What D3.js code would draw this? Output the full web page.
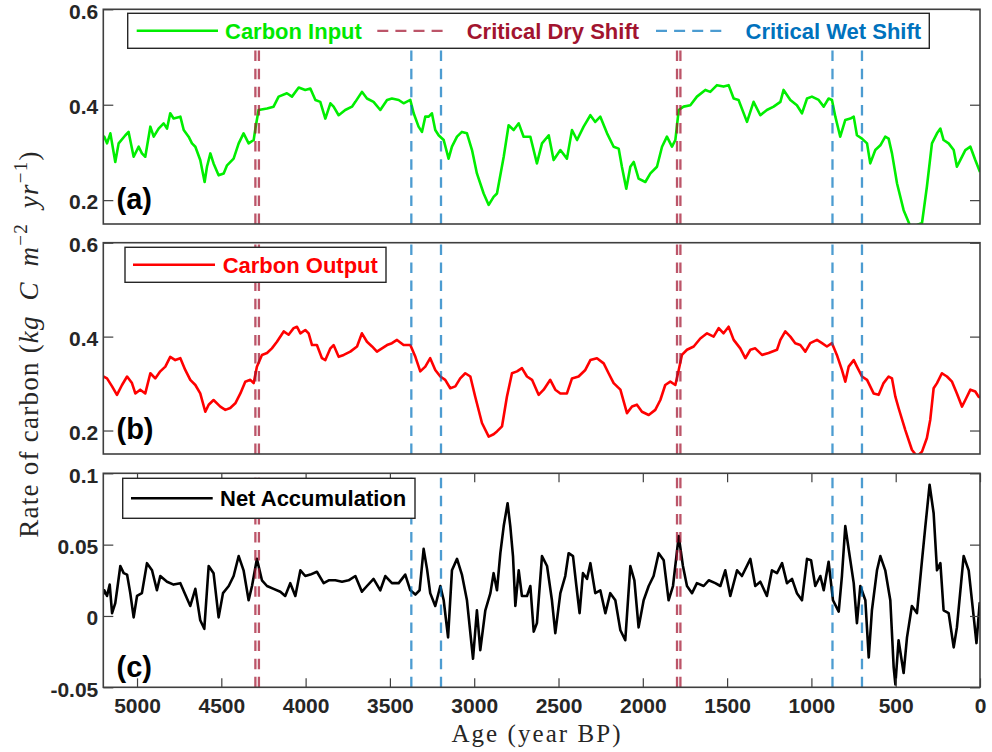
<!DOCTYPE html>
<html>
<head>
<meta charset="utf-8">
<script src="https://cdn.jsdelivr.net/npm/d3@7/dist/d3.min.js"></script>
<style>
  html, body { margin: 0; padding: 0; background: #ffffff; }
  svg { display: block; }
</style>
</head>
<body>
<svg id="chart" width="992" height="752"></svg>
<script>
// ---- Axis ticks ----
const ageTicks = [5000, 4500, 4000, 3500, 3000, 2500, 2000, 1500, 1000, 500, 0];
const rateTicks = [0.2, 0.4, 0.6];
const netTicks = [-0.05, 0, 0.05, 0.1];

// ---- Critical shift ages (year BP) ----
const dryShifts = [4298, 4277, 1797, 1777];
const wetShifts = [3373, 3197, 875, 700];

// ---- Carbon input (kg C m^-2 yr^-1) ----
const inputAge = [5200,5194,5178,5158,5129,5109,5069,5050,5020,4990,4971,4951,4921,4901,4872,4842,4822,4803,4783,4743,
  4723,4694,4674,4654,4625,4599,4585,4565,4546,4516,4486,4466,4427,4397,4368,4338,4308,4298,4279,4229,
  4190,4160,4111,4081,4041,4002,3972,3942,3913,3883,3853,3834,3804,3765,3725,3705,3666,3636,3597,3557,
  3517,3488,3448,3419,3379,3359,3330,3310,3290,3270,3251,3231,3211,3181,3152,3132,3102,3073,3043,3013,
  2984,2944,2914,2885,2865,2825,2796,2766,2736,2707,2667,2628,2598,2558,2529,2489,2450,2420,2390,2351,
  2311,2282,2252,2212,2173,2143,2124,2098,2074,2054,2025,1985,1955,1916,1886,1857,1827,1807,1787,1758,
  1718,1679,1629,1600,1560,1521,1491,1461,1432,1382,1343,1303,1264,1224,1184,1165,1125,1086,1056,1026,
  997,957,927,898,878,858,829,799,769,749,730,700,670,651,621,591,562,542,522,492,
  453,413,374,344,315,285,255,235,216,186,156,137,117,87,57,28,0];
const inputRate = [0.330,0.333,0.319,0.340,0.280,0.319,0.336,0.343,0.291,0.312,0.298,0.291,0.354,0.333,0.350,0.361,0.350,0.382,0.371,0.375,
  0.347,0.333,0.319,0.312,0.284,0.238,0.270,0.298,0.277,0.252,0.256,0.273,0.287,0.319,0.340,0.319,0.326,0.350,0.389,0.392,
  0.396,0.417,0.424,0.417,0.436,0.431,0.434,0.410,0.406,0.371,0.403,0.396,0.378,0.389,0.396,0.406,0.427,0.413,0.406,0.389,
  0.410,0.413,0.410,0.403,0.410,0.382,0.354,0.343,0.375,0.375,0.382,0.347,0.336,0.326,0.287,0.312,0.333,0.343,0.340,0.305,
  0.256,0.214,0.190,0.207,0.214,0.291,0.357,0.347,0.361,0.333,0.333,0.277,0.319,0.336,0.284,0.305,0.287,0.347,0.326,0.354,
  0.378,0.364,0.375,0.340,0.312,0.308,0.270,0.224,0.270,0.280,0.245,0.238,0.256,0.270,0.312,0.333,0.312,0.326,0.389,0.396,
  0.399,0.417,0.431,0.427,0.441,0.438,0.441,0.413,0.410,0.364,0.406,0.378,0.389,0.396,0.406,0.431,0.410,0.399,0.382,0.413,
  0.417,0.410,0.396,0.413,0.410,0.375,0.333,0.368,0.371,0.375,0.336,0.329,0.319,0.277,0.305,0.315,0.333,0.329,0.298,0.235,
  0.179,0.145,0.148,0.152,0.228,0.319,0.340,0.350,0.326,0.319,0.305,0.270,0.284,0.305,0.312,0.284,0.259];

// ---- Carbon output (kg C m^-2 yr^-1) ----
const outputAge = [5200,5178,5148,5119,5089,5059,5030,5010,4981,4951,4921,4892,4862,4832,4803,4773,4743,4714,4684,4654,
  4625,4595,4575,4546,4506,4476,4447,4417,4387,4358,4328,4308,4289,4259,4229,4200,4170,4130,4101,4071,
  4051,4031,4002,3982,3962,3933,3903,3883,3853,3834,3804,3774,3735,3695,3666,3636,3606,3577,3547,3517,
  3488,3458,3419,3379,3349,3320,3290,3261,3231,3201,3172,3142,3112,3083,3053,3023,2994,2954,2914,2885,
  2865,2835,2806,2776,2746,2717,2687,2657,2618,2588,2549,2519,2489,2450,2420,2381,2341,2311,2272,2232,
  2203,2173,2133,2094,2064,2035,2005,1965,1926,1896,1867,1837,1807,1787,1768,1738,1698,1659,1619,1580,
  1550,1521,1491,1461,1422,1392,1362,1333,1293,1254,1204,1184,1155,1125,1096,1066,1036,1007,967,937,
  908,878,849,819,799,779,749,730,700,670,631,601,572,542,522,502,483,443,404,374,
  344,315,295,275,255,226,196,166,137,107,87,57,28,8,0];
const outputRate = [0.315,0.311,0.294,0.276,0.297,0.315,0.301,0.279,0.287,0.279,0.322,0.311,0.326,0.336,0.357,0.350,0.354,0.329,0.308,0.297,
  0.279,0.240,0.255,0.265,0.251,0.244,0.248,0.258,0.279,0.304,0.308,0.301,0.336,0.361,0.365,0.375,0.389,0.411,0.404,0.418,
  0.421,0.407,0.414,0.407,0.382,0.382,0.354,0.350,0.375,0.382,0.357,0.361,0.368,0.379,0.407,0.389,0.379,0.368,0.375,0.382,
  0.386,0.393,0.382,0.382,0.357,0.326,0.336,0.354,0.329,0.315,0.308,0.290,0.294,0.311,0.322,0.315,0.272,0.216,0.187,0.192,
  0.198,0.209,0.272,0.322,0.326,0.333,0.315,0.308,0.276,0.287,0.308,0.287,0.279,0.279,0.311,0.315,0.329,0.350,0.354,0.343,
  0.322,0.301,0.287,0.237,0.251,0.255,0.240,0.233,0.244,0.265,0.297,0.304,0.297,0.329,0.361,0.372,0.379,0.396,0.407,0.400,
  0.418,0.407,0.421,0.393,0.375,0.354,0.372,0.375,0.361,0.365,0.372,0.393,0.411,0.400,0.386,0.382,0.368,0.386,0.393,0.386,
  0.379,0.386,0.361,0.329,0.304,0.336,0.350,0.336,0.315,0.308,0.279,0.276,0.301,0.315,0.311,0.272,0.248,0.201,0.159,0.145,
  0.155,0.184,0.223,0.290,0.301,0.322,0.315,0.304,0.279,0.251,0.265,0.287,0.283,0.272,0.270];

// ---- Net accumulation (kg C m^-2 yr^-1) ----
const netAge = [5200,5194,5178,5162,5148,5129,5115,5099,5079,5059,5040,5020,5000,4971,4941,4911,4882,4862,4822,4783,
  4743,4714,4684,4654,4625,4601,4575,4546,4516,4490,4456,4427,4397,4368,4338,4318,4289,4259,4229,4190,
  4150,4121,4091,4061,4031,4002,3972,3933,3893,3863,3824,3784,3745,3705,3666,3636,3597,3557,3527,3488,
  3448,3409,3379,3349,3324,3300,3280,3261,3231,3201,3181,3155,3132,3102,3073,3043,3007,2984,2964,2934,
  2904,2885,2865,2845,2825,2802,2786,2770,2756,2736,2717,2687,2667,2647,2628,2598,2568,2539,2519,2489,
  2460,2440,2414,2394,2375,2355,2331,2311,2282,2252,2222,2193,2163,2133,2104,2074,2050,2025,1995,1965,
  1936,1906,1876,1847,1821,1787,1762,1738,1708,1679,1639,1609,1570,1540,1511,1481,1441,1412,1362,1333,
  1303,1264,1234,1204,1174,1145,1115,1086,1056,1026,1002,977,947,927,898,872,838,819,799,773,
  749,730,710,680,660,641,611,591,562,532,512,502,483,453,433,404,374,344,324,299,
  275,255,235,216,186,156,137,97,67,37,21,2,0];
const netRate = [0.015,0.018,0.014,0.022,0.002,0.009,0.021,0.035,0.030,0.029,0.016,-0.001,0.014,0.016,0.037,0.032,0.018,0.028,0.024,0.022,
  0.023,0.015,0.007,0.019,-0.003,-0.009,0.035,0.030,-0.001,0.016,0.021,0.028,0.042,0.032,0.011,0.021,0.040,0.025,0.021,0.019,
  0.017,0.014,0.023,0.014,0.032,0.028,0.029,0.031,0.023,0.025,0.025,0.024,0.025,0.028,0.017,0.021,0.026,0.018,0.028,0.023,
  0.023,0.029,0.018,0.015,0.018,0.047,0.033,0.016,0.007,0.021,0.011,-0.015,0.032,0.040,0.029,0.011,-0.030,0.004,-0.024,0.004,
  0.016,0.030,0.018,0.044,0.063,0.079,0.063,0.042,0.007,0.032,0.014,0.014,0.021,-0.011,-0.005,0.042,0.035,0.011,-0.012,0.016,
  0.028,0.044,0.042,0.021,0.002,0.030,0.026,0.037,0.016,0.018,0.002,0.016,0.011,-0.010,-0.017,0.035,0.025,-0.008,0.011,0.021,
  0.028,0.044,0.039,0.011,0.021,0.056,0.035,0.021,0.016,0.023,0.021,0.025,0.023,0.021,0.032,0.014,0.032,0.028,0.040,0.021,
  0.024,0.014,0.032,0.030,0.037,0.023,0.026,0.016,0.011,0.040,0.039,0.021,0.028,0.018,0.038,0.011,0.003,0.028,0.063,0.042,
  0.023,-0.005,0.021,0.011,-0.029,0.004,0.032,0.042,0.032,0.011,-0.036,-0.048,-0.017,-0.040,-0.015,0.007,0.002,0.039,0.063,0.092,
  0.072,0.032,0.037,0.004,0.002,-0.022,-0.008,0.042,0.032,-0.001,-0.019,0.009,0.008];

// ---- Layout ----
const svg = d3.select('#chart');
const plotLeft = 103.3, plotRight = 980;
const tickFont = '"Liberation Sans", Arial, Helvetica, sans-serif';
const serifFont = '"Liberation Serif", "Times New Roman", serif';
const frameColor = '#3f3f3f';
const textColor = '#262626';

const x = d3.scaleLinear().domain([5200, 0]).range([plotLeft, plotRight]);

const panels = [
  { key: 'a', top: 9.3, bottom: 224, domain: [0.15, 0.6], ticks: rateTicks, fmt: d3.format('.1f'),
    ages: inputAge, vals: inputRate, color: '#00ee00', tag: '(a)', tagY: 208.5, showAge: false,
    legend: { x0: 127.7, x1: 929.3, y0: 13.3, y1: 48.3,
      items: [
        { kind: 'solid', color: '#00ee00', lx0: 136.7, lx1: 218, tx: 225, text: 'Carbon Input', tcolor: '#00e800' },
        { kind: 'dry', lx0: 377.3, lx1: 443, tx: 466.7, text: 'Critical Dry Shift', tcolor: '#a2142f' },
        { kind: 'wet', lx0: 656, lx1: 722, tx: 745.5, text: 'Critical Wet Shift', tcolor: '#0072bd' }
      ] } },
  { key: 'b', top: 242.7, bottom: 454, domain: [0.15, 0.6], ticks: rateTicks, fmt: d3.format('.1f'),
    ages: outputAge, vals: outputRate, color: '#ff0000', tag: '(b)', tagY: 439, showAge: false,
    legend: { x0: 125, x1: 386, y0: 247.3, y1: 282.3,
      items: [ { kind: 'solid', color: '#ff0000', lx0: 133, lx1: 215, tx: 222.7, text: 'Carbon Output', tcolor: '#ff0000' } ] } },
  { key: 'c', top: 473.3, bottom: 687.3, domain: [-0.05, 0.1], ticks: netTicks, fmt: d => (d === 0 ? '0' : String(d)),
    ages: netAge, vals: netRate, color: '#000000', tag: '(c)', tagY: 677, showAge: true,
    legend: { x0: 122.7, x1: 415, y0: 478.3, y1: 518.3,
      items: [ { kind: 'solid', color: '#000000', lx0: 131, lx1: 212.7, tx: 220, text: 'Net Accumulation', tcolor: '#000000' } ] } }
];

const dryStroke = 'rgba(162,20,47,0.72)';
const wetStroke = 'rgba(0,114,189,0.7)';
const dashPattern = '10.5,7.6';

panels.forEach(p => {
  const y = d3.scaleLinear().domain(p.domain).range([p.bottom, p.top]);
  const g = svg.append('g').attr('class', 'panel-' + p.key);

  // clip region for the data line
  const clipId = 'clip-' + p.key;
  svg.append('defs').append('clipPath').attr('id', clipId)
    .append('rect')
    .attr('x', plotLeft).attr('y', p.top)
    .attr('width', plotRight - plotLeft).attr('height', p.bottom - p.top);

  // series line
  const series = p.ages.map((a, i) => ({ age: a, v: p.vals[i] }));
  g.append('path')
    .datum(series)
    .attr('clip-path', `url(#${clipId})`)
    .attr('fill', 'none')
    .attr('stroke', p.color)
    .attr('stroke-width', 2.6)
    .attr('stroke-linejoin', 'round')
    .attr('d', d3.line().x(d => x(d.age)).y(d => y(d.v)));

  // critical shift markers, drawn upward from the bottom edge
  const shiftLines = [
    ...dryShifts.map(a => ({ age: a, stroke: dryStroke })),
    ...wetShifts.map(a => ({ age: a, stroke: wetStroke }))
  ];
  g.selectAll('line.shift').data(shiftLines).join('line')
    .attr('class', 'shift')
    .attr('x1', d => x(d.age)).attr('x2', d => x(d.age))
    .attr('y1', p.bottom).attr('y2', p.top)
    .attr('stroke', d => d.stroke)
    .attr('stroke-width', 2.3)
    .attr('stroke-dasharray', dashPattern);

  // y axes (ticks inside on both sides)
  const left = g.append('g').attr('transform', `translate(${plotLeft},0)`)
    .call(d3.axisLeft(y).tickValues(p.ticks).tickSize(-10).tickPadding(5).tickFormat(p.fmt));
  const right = g.append('g').attr('transform', `translate(${plotRight},0)`)
    .call(d3.axisRight(y).tickValues(p.ticks).tickSize(-10).tickFormat(''));
  [left, right].forEach(ax => {
    ax.select('.domain').remove();
    ax.selectAll('.tick line').attr('stroke', frameColor).attr('stroke-width', 1.2);
  });
  left.selectAll('.tick text')
    .attr('font-family', tickFont).attr('font-weight', 'bold').attr('font-size', 21)
    .attr('fill', textColor).attr('dy', '0.42em');

  // age axis ticks (bottom panel only)
  if (p.showAge) {
    const bottom = g.append('g').attr('transform', `translate(0,${p.bottom})`)
      .call(d3.axisBottom(x).tickValues(ageTicks).tickSize(-9).tickPadding(11).tickFormat(d3.format('d')));
    const topAx = g.append('g').attr('transform', `translate(0,${p.top})`)
      .call(d3.axisTop(x).tickValues(ageTicks).tickSize(-9).tickFormat(''));
    [bottom, topAx].forEach(ax => {
      ax.select('.domain').remove();
      ax.selectAll('.tick line').attr('stroke', frameColor).attr('stroke-width', 1.2);
    });
    bottom.selectAll('.tick text')
      .attr('font-family', tickFont).attr('font-weight', 'bold').attr('font-size', 21)
      .attr('fill', textColor);
  }

  // axes box
  g.append('rect')
    .attr('x', plotLeft).attr('y', p.top)
    .attr('width', plotRight - plotLeft).attr('height', p.bottom - p.top)
    .attr('fill', 'none').attr('stroke', frameColor).attr('stroke-width', 1.6);

  // legend
  const L = p.legend;
  const lg = g.append('g').attr('class', 'legend');
  lg.append('rect')
    .attr('x', L.x0).attr('y', L.y0).attr('width', L.x1 - L.x0).attr('height', L.y1 - L.y0)
    .attr('fill', '#ffffff').attr('stroke', '#262626').attr('stroke-width', 1.4);
  const ly = (L.y0 + L.y1) / 2;
  L.items.forEach(it => {
    const ln = lg.append('line')
      .attr('x1', it.lx0).attr('x2', it.lx1).attr('y1', ly).attr('y2', ly)
      .attr('stroke-width', it.kind === 'solid' ? 2.6 : 2.3);
    if (it.kind === 'solid') ln.attr('stroke', it.color);
    else ln.attr('stroke', it.kind === 'dry' ? dryStroke : wetStroke).attr('stroke-dasharray', '11,7.1');
    lg.append('text')
      .attr('x', it.tx).attr('y', ly).attr('dy', '0.36em')
      .attr('font-family', tickFont).attr('font-weight', 'bold').attr('font-size', 22)
      .attr('fill', it.tcolor).text(it.text);
  });

  // panel tag
  g.append('text')
    .attr('x', 116.5).attr('y', p.tagY)
    .attr('font-family', tickFont).attr('font-weight', 'bold').attr('font-size', 29)
    .attr('fill', '#000000').text(p.tag);
});

// x-axis title
const xTitle = svg.append('text')
  .attr('x', 537).attr('y', 742)
  .attr('text-anchor', 'middle')
  .attr('font-family', serifFont).attr('font-size', 25)
  .attr('fill', textColor)
  .text('Age (year BP)');
const xLen = xTitle.node().getComputedTextLength();
xTitle.attr('letter-spacing', Math.max(0, (171 - xLen) / 13).toFixed(2) + 'px');

// y-axis title with italic units and superscripts
const yTitle = svg.append('text')
  .attr('transform', 'translate(38,344) rotate(-90)')
  .attr('text-anchor', 'middle')
  .attr('font-family', serifFont).attr('font-size', 27)
  .attr('fill', textColor);
yTitle.append('tspan').text('Rate of carbon (');
yTitle.append('tspan').attr('font-style', 'italic').text('kg');
yTitle.append('tspan').text('\u2002');
yTitle.append('tspan').attr('font-style', 'italic').text('C');
yTitle.append('tspan').text('\u2002');
yTitle.append('tspan').attr('font-style', 'italic').text('m');
yTitle.append('tspan').attr('font-size', 19).attr('dy', -11).text('\u22122');
yTitle.append('tspan').attr('dy', 11).text('\u2002');
yTitle.append('tspan').attr('font-style', 'italic').text('yr');
yTitle.append('tspan').attr('font-size', 19).attr('dy', -11).text('\u22121');
yTitle.append('tspan').attr('dy', 11).text(')');
const yLen = yTitle.node().getComputedTextLength();
yTitle.attr('letter-spacing', Math.max(0, (395 - yLen) / 36).toFixed(2) + 'px');
</script>
</body>
</html>
